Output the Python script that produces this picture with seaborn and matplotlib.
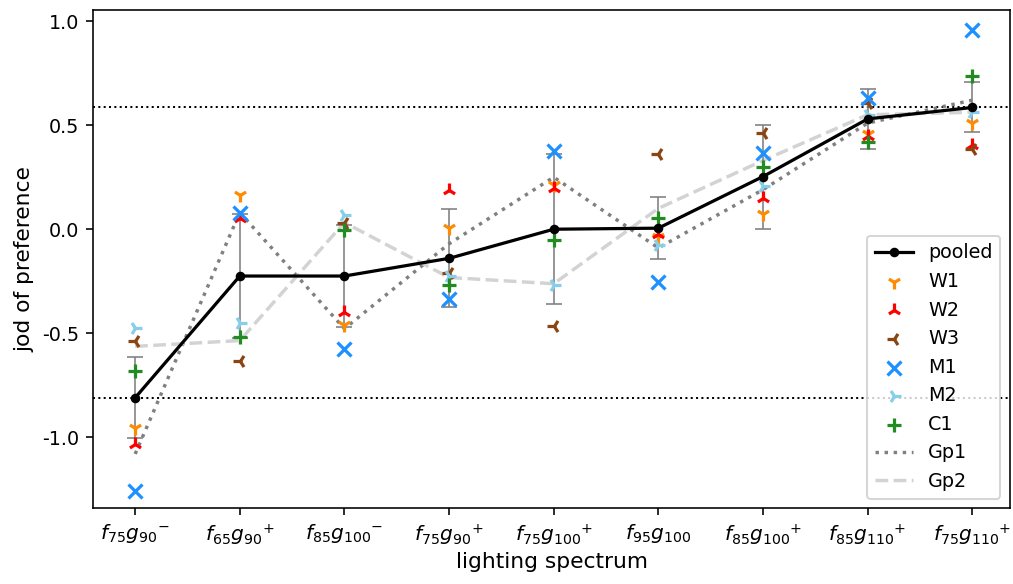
import numpy as np
import pandas as pd
import matplotlib
matplotlib.use("Agg")
import matplotlib.pyplot as plt
import seaborn as sns

spectra = [r"$f_{75}g_{90}{}^{-}$", r"$f_{65}g_{90}{}^{+}$", r"$f_{85}g_{100}{}^{-}$",
           r"$f_{75}g_{90}{}^{+}$", r"$f_{75}g_{100}{}^{+}$", r"$f_{95}g_{100}$",
           r"$f_{85}g_{100}{}^{+}$", r"$f_{85}g_{110}{}^{+}$", r"$f_{75}g_{110}{}^{+}$"]

pooled = [-0.81, -0.225, -0.225, -0.14, 0.0, 0.005, 0.253, 0.53, 0.585]
pooled_err = [0.195, 0.30, 0.245, 0.235, 0.36, 0.15, 0.25, 0.145, 0.12]

w1 = [-0.954, 0.165, -0.46, 0.005, 0.213, -0.038, 0.074, 0.458, 0.51]
w2 = [-1.03, 0.053, -0.396, 0.189, 0.197, -0.023, 0.149, 0.449, 0.405]
w3 = [-0.537, -0.633, 0.03, -0.209, -0.465, 0.362, 0.462, 0.607, 0.385]
m1 = [-1.258, 0.08, -0.577, -0.337, 0.378, -0.252, 0.365, 0.63, 0.955]
m2 = [-0.473, -0.452, 0.069, -0.225, -0.268, -0.075, 0.208, 0.55, 0.565]
c1 = [-0.68, -0.52, -0.003, -0.268, -0.051, 0.053, 0.301, 0.421, 0.737]

gp1 = [-1.08, 0.08, -0.478, -0.07, 0.25, -0.09, 0.19, 0.51, 0.62]
gp2 = [-0.563, -0.535, 0.032, -0.232, -0.262, 0.10, 0.33, 0.55, 0.562]

plt.rcParams["axes.unicode_minus"] = False
plt.rcParams["font.size"] = 9.5

x = np.arange(len(spectra))

fig = plt.figure(figsize=(6.993, 4.028), dpi=145)
ax = fig.add_axes([0.092, 0.130, 0.904, 0.853])

# group means behind everything
sns.lineplot(x=x, y=gp1, ax=ax, color="gray", linestyle=":", linewidth=1.7,
             label="Gp1", zorder=1)
sns.lineplot(x=x, y=gp2, ax=ax, color="lightgray", linestyle="--", linewidth=1.7,
             label="Gp2", zorder=1)

ax.errorbar(x, pooled, yerr=pooled_err, fmt="none", ecolor="gray",
            elinewidth=0.8, capsize=4, capthick=0.8, zorder=2)
sns.lineplot(x=x, y=pooled, ax=ax, color="black", marker="o", markersize=4,
             markeredgecolor="black", linewidth=1.6, label="pooled", zorder=4)

observers = pd.DataFrame({"W1": w1, "W2": w2, "W3": w3, "M1": m1, "M2": m2, "C1": c1})
styles = {"W1": ("1", "darkorange"), "W2": ("2", "red"), "W3": ("3", "saddlebrown"),
          "M1": ("x", "dodgerblue"), "M2": ("4", "skyblue"), "C1": ("+", "forestgreen")}
for name in observers.columns:
    mk, col = styles[name]
    sns.scatterplot(x=x, y=observers[name], ax=ax, marker=mk, color=col,
                    s=48, linewidth=1.6, label=name, zorder=3)

ax.axhline(max(pooled), color="black", linestyle=":", linewidth=1.0, zorder=0)
ax.axhline(min(pooled), color="black", linestyle=":", linewidth=1.0, zorder=0)

ax.set_xticks(x)
ax.set_xticklabels(spectra, fontsize=10)
ax.set_xlim(-0.40, 8.36)
ax.set_ylim(-1.34, 1.054)
ax.set_yticks([-1.0, -0.5, 0.0, 0.5, 1.0])
ax.set_xlabel("lighting spectrum", fontsize=10.8, labelpad=2)
ax.set_ylabel("jod of preference", fontsize=10.8)

handles, labels = ax.get_legend_handles_labels()
order = ["pooled", "W1", "W2", "W3", "M1", "M2", "C1", "Gp1", "Gp2"]
hmap = dict(zip(labels, handles))
ax.legend([hmap[k] for k in order], order, loc="lower right")

fig.savefig("out.png", dpi=145)
